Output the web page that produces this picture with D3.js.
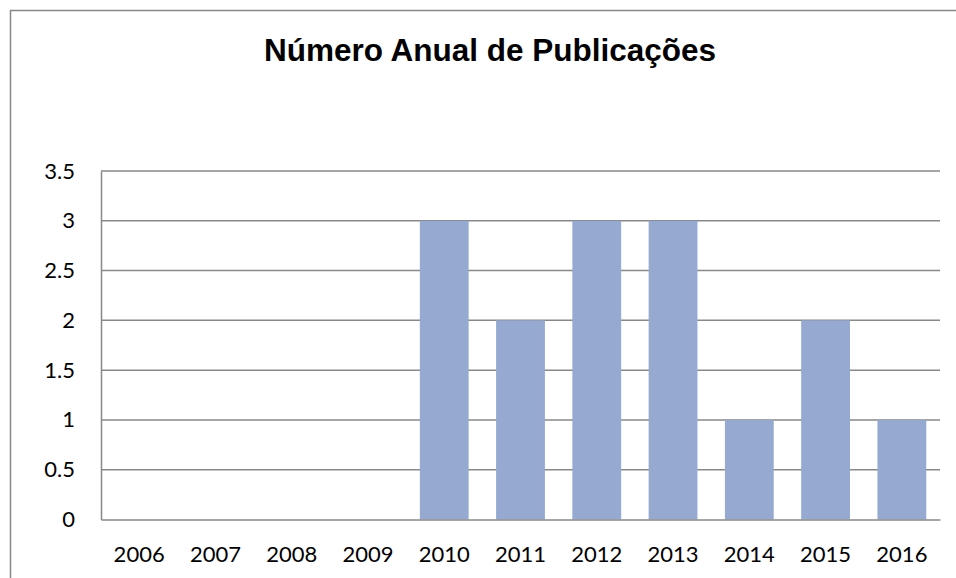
<!DOCTYPE html>
<html><head><meta charset="utf-8">
<script src="https://cdn.jsdelivr.net/npm/d3@7"></script>
<style>body{margin:0;background:#fff}svg{display:block}</style>
</head><body>
<svg id="c" width="956" height="578"></svg>
<script>
const categories = ["2006","2007","2008","2009","2010","2011","2012","2013","2014","2015","2016"];
const values = [0,0,0,0,3,2,3,3,1,2,1];
const yTicks = [0,0.5,1,1.5,2,2.5,3,3.5];
const title = "Número Anual de Publicações";

const svg = d3.select("#c");
const W = 956, H = 578;
const m = {left:101, right:940, top:171, bottom:519.5};

// outer chart border
svg.append("rect").attr("x",10.5).attr("y",10.5).attr("width",W+20).attr("height",H+20)
  .attr("fill","#fff").attr("stroke","#878787").attr("stroke-width",1.5);

svg.append("text").attr("x",490).attr("y",61).attr("text-anchor","middle")
  .attr("font-family","Liberation Sans, Arial, sans-serif").attr("font-weight","bold")
  .attr("font-size",31.5).attr("fill","#000").text(title);

const x = d3.scaleBand().domain(categories).range([m.left,m.right]).paddingInner(0.36).paddingOuter(0.18);
const y = d3.scaleLinear().domain([0,3.5]).range([m.bottom,m.top]);

// gridlines
svg.append("g").selectAll("line").data(yTicks.filter(d=>d>0)).join("line")
  .attr("x1",m.left).attr("x2",m.right).attr("y1",d=>y(d)).attr("y2",d=>y(d))
  .attr("stroke","#888").attr("stroke-width",1.5);

// bars
svg.append("g").selectAll("rect").data(values).join("rect")
  .attr("x",(d,i)=>x(categories[i])).attr("width",x.bandwidth())
  .attr("y",d=>y(d)).attr("height",d=>y(0)-y(d)).attr("fill","#95A9D1");

// y axis
const yAxis = d3.axisLeft(y).tickValues(yTicks).tickSize(0).tickPadding(26).tickFormat(d=>String(d));
const gy = svg.append("g").attr("transform",`translate(${m.left},0)`).call(yAxis);
gy.select(".domain").attr("stroke","#888").attr("stroke-width",1.5);
gy.selectAll("text").attr("font-family","Lato, Open Sans, sans-serif").attr("font-size",22).attr("fill","#000");

// x axis
const xAxis = d3.axisBottom(x).tickSize(0).tickPadding(27);
const gx = svg.append("g").attr("transform",`translate(0,${m.bottom})`).call(xAxis);
gx.select(".domain").attr("stroke","#888").attr("stroke-width",1.5);
gx.selectAll("text").attr("font-family","Lato, Open Sans, sans-serif").attr("font-size",22).attr("fill","#000");
</script>
</body></html>
